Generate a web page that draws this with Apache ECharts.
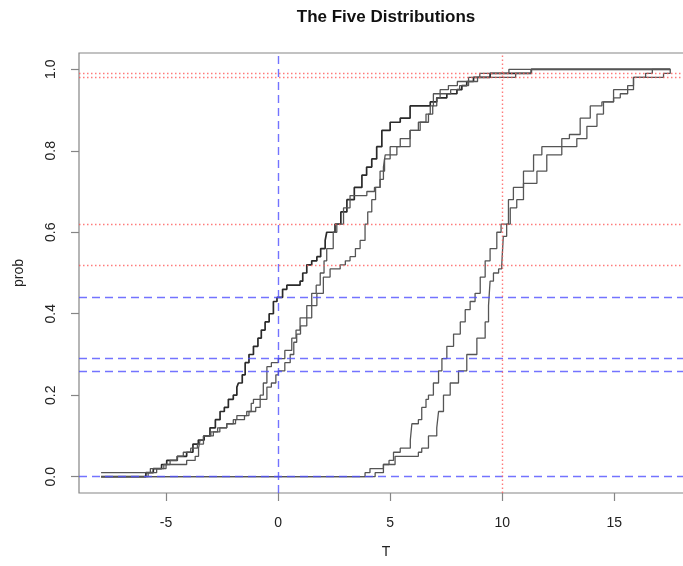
<!DOCTYPE html>
<html>
<head>
<meta charset="utf-8">
<script src="https://cdn.jsdelivr.net/npm/echarts@6/dist/echarts.min.js"></script>
<style>
  html, body { margin: 0; padding: 0; background: #ffffff; overflow: hidden; }
  /* the plot frame runs a little past the right edge of the window */
  #chart { width: 700px; height: 566px; }
</style>
</head>
<body>
<div id="chart"></div>
<script>
// Empirical CDFs of the five samples: [T, cumulative probability]
const distA = [
  [-7.9, 0.00], [-5.9, 0.01], [-5.57, 0.02], [-5.2, 0.03], [-4.97, 0.04], [-4.5, 0.05],
  [-4.08, 0.06], [-3.8, 0.08], [-3.56, 0.09], [-3.3, 0.10], [-3.04, 0.12], [-2.8, 0.14],
  [-2.59, 0.16], [-2.4, 0.17], [-2.22, 0.19], [-2.0, 0.20], [-1.84, 0.22], [-1.77, 0.23],
  [-1.6, 0.25], [-1.47, 0.28], [-1.3, 0.30], [-1.1, 0.32], [-0.9, 0.34], [-0.75, 0.36],
  [-0.58, 0.38], [-0.4, 0.40], [-0.21, 0.43], [-0.05, 0.44], [0.2, 0.46], [0.39, 0.47],
  [0.98, 0.48], [1.1, 0.50], [1.28, 0.52], [1.5, 0.53], [1.73, 0.54], [1.9, 0.56],
  [2.1, 0.58], [2.17, 0.60], [2.54, 0.62], [2.8, 0.65], [3.07, 0.68], [3.4, 0.71],
  [3.74, 0.74], [3.95, 0.76], [4.18, 0.78], [4.4, 0.81], [4.63, 0.85], [5.0, 0.87],
  [5.45, 0.88], [5.89, 0.91], [6.79, 0.92], [7.08, 0.93], [7.53, 0.94], [7.98, 0.95],
  [8.2, 0.96], [8.42, 0.97], [8.72, 0.98], [9.46, 0.99], [11.3, 1.00], [17.5, 1.00]
];
const distB = [
  [-7.9, 0.00], [-5.8, 0.01], [-5.42, 0.02], [-5.1, 0.03], [-4.82, 0.04], [-4.5, 0.05],
  [-4.23, 0.06], [-3.9, 0.07], [-3.6, 0.08], [-3.33, 0.10], [-2.89, 0.11], [-2.6, 0.12],
  [-2.29, 0.13], [-2.0, 0.14], [-1.84, 0.15], [-1.4, 0.16], [-1.2, 0.18], [-1.1, 0.19],
  [-0.8, 0.20], [-0.66, 0.23], [-0.5, 0.27], [-0.3, 0.28], [0.01, 0.29], [0.3, 0.31],
  [0.61, 0.34], [0.8, 0.36], [0.98, 0.39], [1.28, 0.42], [1.5, 0.45], [1.7, 0.47],
  [1.88, 0.50], [2.05, 0.53], [2.17, 0.56], [2.46, 0.60], [2.62, 0.62], [2.92, 0.66],
  [3.21, 0.69], [3.96, 0.70], [4.3, 0.71], [4.55, 0.73], [4.7, 0.76], [4.78, 0.79],
  [5.3, 0.81], [5.89, 0.85], [6.34, 0.87], [6.6, 0.89], [6.79, 0.91], [6.93, 0.94],
  [7.23, 0.95], [7.6, 0.96], [8.0, 0.97], [8.5, 0.98], [9.0, 0.99], [10.3, 1.00], [17.5, 1.00]
];
const distC = [
  [-7.9, 0.01], [-5.7, 0.02], [-5.0, 0.03], [-4.08, 0.04], [-3.7, 0.05], [-3.55, 0.07],
  [-3.48, 0.09], [-3.33, 0.10], [-3.0, 0.11], [-2.7, 0.12], [-2.29, 0.13], [-1.9, 0.14],
  [-1.5, 0.15], [-1.3, 0.16], [-1.0, 0.17], [-0.8, 0.19], [-0.5, 0.22], [-0.3, 0.23],
  [-0.1, 0.25], [0.01, 0.26], [0.3, 0.28], [0.54, 0.30], [0.7, 0.33], [0.83, 0.35],
  [1.0, 0.37], [1.28, 0.39], [1.5, 0.42], [1.73, 0.45], [2.02, 0.49], [2.32, 0.51],
  [2.77, 0.52], [3.0, 0.53], [3.21, 0.54], [3.45, 0.56], [3.66, 0.58], [3.88, 0.62],
  [4.0, 0.65], [4.18, 0.68], [4.35, 0.71], [4.55, 0.75], [4.75, 0.78], [5.0, 0.81],
  [5.45, 0.83], [5.89, 0.85], [6.26, 0.87], [6.71, 0.89], [6.9, 0.91], [7.08, 0.93],
  [7.23, 0.94], [7.7, 0.95], [8.1, 0.96], [8.5, 0.97], [8.9, 0.98], [10.6, 0.99],
  [11.3, 1.00], [17.5, 1.00]
];
const distD = [
  [-7.9, 0.00], [3.88, 0.01], [4.1, 0.02], [4.7, 0.03], [4.95, 0.04], [5.15, 0.06],
  [5.45, 0.07], [5.9, 0.09], [5.97, 0.13], [6.26, 0.14], [6.41, 0.17], [6.6, 0.19],
  [6.71, 0.20], [6.93, 0.23], [7.16, 0.26], [7.31, 0.29], [7.53, 0.32], [7.83, 0.35],
  [8.13, 0.38], [8.35, 0.41], [8.57, 0.43], [8.79, 0.45], [9.02, 0.49], [9.24, 0.53],
  [9.46, 0.56], [9.76, 0.60], [9.95, 0.62], [10.28, 0.68], [10.5, 0.71], [10.95, 0.75],
  [11.4, 0.79], [11.77, 0.81], [12.66, 0.83], [13.0, 0.84], [13.48, 0.88], [13.93, 0.91],
  [14.45, 0.92], [14.97, 0.95], [15.86, 0.98], [16.4, 0.99], [16.7, 1.00], [17.5, 1.00]
];
const distE = [
  [-7.9, 0.00], [4.33, 0.01], [4.7, 0.03], [5.22, 0.05], [6.26, 0.06], [6.41, 0.07],
  [6.71, 0.10], [7.08, 0.12], [7.16, 0.16], [7.38, 0.20], [7.68, 0.23], [8.05, 0.26],
  [8.42, 0.30], [8.87, 0.34], [9.24, 0.38], [9.39, 0.42], [9.46, 0.48], [9.61, 0.50],
  [9.84, 0.51], [9.98, 0.52], [10.05, 0.59], [10.2, 0.62], [10.36, 0.66], [10.65, 0.68],
  [10.95, 0.72], [11.55, 0.75], [11.99, 0.79], [12.66, 0.81], [13.33, 0.83], [13.78, 0.86],
  [14.23, 0.89], [14.52, 0.92], [14.97, 0.93], [15.27, 0.94], [15.6, 0.96], [15.86, 0.98],
  [17.2, 0.99], [17.5, 1.00]
];

// Axis ticks
const xTicks = [-5, 0, 5, 10, 15];
const yTicks = [0, 0.2, 0.4, 0.6, 0.8, 1.0];

const blueCut = 0;
const blueLevels = [0.44, 0.29, 0.26, 0];
const redCut = 10;
const redLevels = [0.99, 0.98, 0.62, 0.52];

const FONT = '"Liberation Sans", Arial, Helvetica, sans-serif';
const BOX = '#858585';
const BLUE = 'rgba(80, 80, 255, 0.8)';
const RED = 'rgba(255, 90, 90, 0.8)';

function ecdfSeries(name, data, color, width) {
  return {
    name: name,
    type: 'line',
    step: 'end',
    data: data,
    showSymbol: false,
    symbol: 'none',
    silent: true,
    z: 2,
    lineStyle: { color: color, width: width }
  };
}

const refLines = [];
blueLevels.forEach(v => refLines.push({ yAxis: v, lineStyle: { color: BLUE, type: [8, 5], width: 1.4 } }));
refLines.push({ xAxis: blueCut, lineStyle: { color: BLUE, type: [8, 5], width: 1.4 } });
redLevels.forEach(v => refLines.push({ yAxis: v, lineStyle: { color: RED, type: [1.5, 2.5], width: 1.4 } }));
refLines.push({ xAxis: redCut, lineStyle: { color: RED, type: [1.5, 2.5], width: 1.4 } });

const chart = echarts.init(document.getElementById('chart'), null, { renderer: 'canvas' });
chart.setOption({
  animation: false,
  backgroundColor: '#ffffff',
  textStyle: { fontFamily: FONT },
  graphic: [{
    type: 'text',
    x: 386, y: 17,
    style: {
      text: 'The Five Distributions',
      font: 'bold 17px ' + FONT,
      fill: '#111',
      textAlign: 'center',
      textVerticalAlign: 'middle'
    }
  }],
  grid: {
    left: 79, top: 53, width: 614, height: 440,
    show: true, borderColor: BOX, borderWidth: 1.2, backgroundColor: 'transparent'
  },
  xAxis: {
    type: 'value',
    min: -8.885, max: 18.515,
    name: 'T',
    nameLocation: 'middle',
    nameGap: 52,
    nameTextStyle: { fontFamily: FONT, fontSize: 14, color: '#222' },
    axisLine: { show: false, onZero: false },
    splitLine: { show: false },
    axisTick: { show: true, customValues: xTicks, length: 8, inside: false, lineStyle: { color: BOX, width: 1.2 } },
    axisLabel: { customValues: xTicks, margin: 23, fontFamily: FONT, fontSize: 14, color: '#222' }
  },
  yAxis: {
    type: 'value',
    min: -0.04, max: 1.04,
    name: 'prob',
    nameLocation: 'middle',
    nameRotate: 90,
    nameGap: 53,
    nameTextStyle: { fontFamily: FONT, fontSize: 14, color: '#222' },
    axisLine: { show: false, onZero: false },
    splitLine: { show: false },
    axisTick: { show: true, customValues: yTicks, length: 8, inside: false, lineStyle: { color: BOX, width: 1.2 } },
    axisLabel: {
      customValues: yTicks, rotate: 90, margin: 21, fontFamily: FONT, fontSize: 14, color: '#222',
      formatter: v => v.toFixed(1)
    }
  },
  series: [
    ecdfSeries('A', distA, '#2a2a2a', 1.7),
    ecdfSeries('B', distB, '#555555', 1.3),
    ecdfSeries('C', distC, '#555555', 1.3),
    ecdfSeries('D', distD, '#555555', 1.3),
    ecdfSeries('E', distE, '#555555', 1.3),
    {
      name: 'reference',
      type: 'line',
      data: [],
      silent: true,
      z: 5,
      markLine: {
        silent: true,
        symbol: ['none', 'none'],
        label: { show: false },
        animation: false,
        data: refLines
      }
    }
  ]
});
</script>
</body>
</html>
